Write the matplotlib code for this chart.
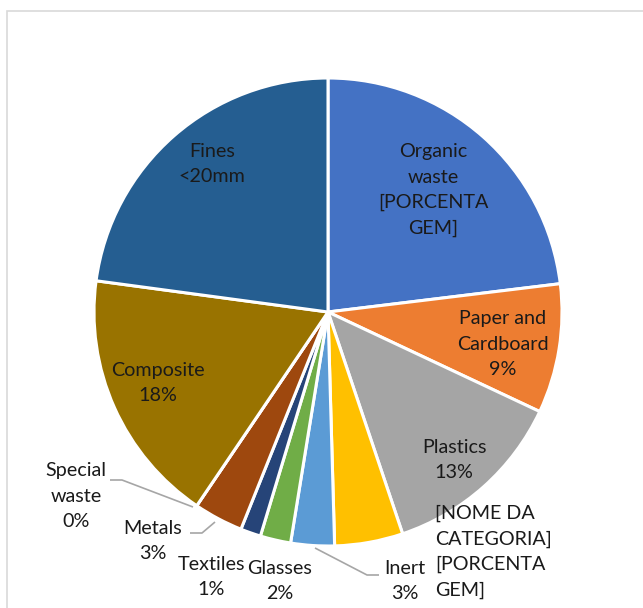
import matplotlib.pyplot as plt
from matplotlib.patches import Rectangle

# waste composition shares (%), clockwise from 12 o'clock
categories = ["Organic waste", "Paper and Cardboard", "Plastics", "[NOME DA CATEGORIA]",
              "Inert", "Glasses", "Textiles", "Metals", "Special waste", "Composite",
              "Fines <20mm"]
shares = [23.0, 8.9, 12.8, 4.7, 3.0, 2.1, 1.4, 3.4, 0.0, 17.6, 22.8]
colors = ["#4472C4", "#ED7D31", "#A5A5A5", "#FFC000", "#5B9BD5", "#70AD47",
          "#264478", "#9E480E", "#636363", "#997300", "#255E91"]

W, H = 643, 608
plt.rcParams["font.family"] = ["Lato", "DejaVu Sans"]

fig = plt.figure(figsize=(W / 100, H / 100), dpi=100)
ax = fig.add_axes([0, 0, 1, 1])

# chart area frame
fig.patches.append(Rectangle((7 / W, -0.1), 1.2, (H - 11) / H + 0.1, transform=fig.transFigure,
                             fill=False, edgecolor="#d9d9d9", linewidth=1.2))

cx, cy, r = 328, 312, 234
ax.pie(shares, colors=colors, startangle=90, counterclock=False,
       center=(cx, H - cy), radius=r, frame=True,
       wedgeprops=dict(edgecolor="white", linewidth=2.2))
ax.set_xlim(0, W)
ax.set_ylim(0, H)
ax.axis("off")


def pct(i):
    return f"{round(shares[i])}%"


def label(x, y, s, ha="center"):
    ax.text(x, H - y, s, ha=ha, va="center", fontsize=14.2, color="#1a1a1a",
            linespacing=1.58)


def leader(pts):
    ax.plot([p[0] for p in pts], [H - p[1] for p in pts], color="#a6a6a6", lw=1.2,
            solid_capstyle="butt")


label(433, 190, "Organic\nwaste\n[PORCENTA\nGEM]")
label(503, 344, f"Paper and\nCardboard\n{pct(1)}")
label(454, 460, f"Plastics\n{pct(2)}")
label(435, 552, "[NOME DA\nCATEGORIA]\n[PORCENTA\nGEM]", ha="left")
label(405, 581, f"Inert\n{pct(4)}")
label(280, 581, f"Glasses\n{pct(5)}")
label(211, 577, f"Textiles\n{pct(6)}")
label(153, 541, f"Metals\n{pct(7)}")
label(76, 496, f"Special\nwaste\n{pct(8)}")
label(158, 383, f"Composite\n{pct(9)}")
label(212, 164, "Fines\n<20mm")

leader([(315, 548), (367, 575), (379, 575)])
leader([(215, 522), (202, 533), (190, 533)])
leader([(193, 507), (122, 480), (110, 480)])

fig.savefig("out.png", dpi=100)
